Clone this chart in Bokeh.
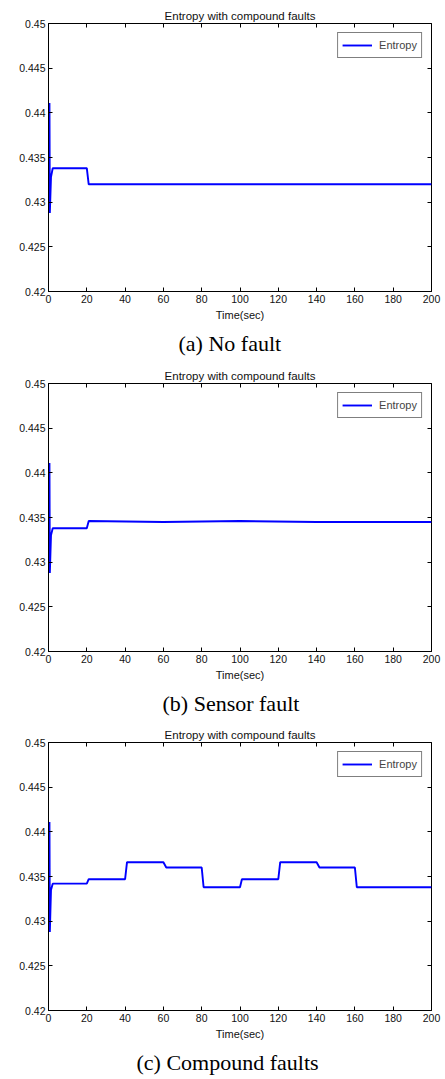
from bokeh.plotting import figure
from bokeh.models import (Range1d, FixedTicker, LinearAxis, CustomJSTickFormatter, Title)
from bokeh.layouts import column
from bokeh.embed import file_html
from bokeh.resources import INLINE

# ---- data ----
title_text = "Entropy with compound faults"
x_label = "Time(sec)"
series_name = "Entropy"
captions = ["(a) No fault", "(b) Sensor fault", "(c) Compound faults"]

x_ticks = [0, 20, 40, 60, 80, 100, 120, 140, 160, 180, 200]
y_ticks = [0.42, 0.425, 0.43, 0.435, 0.44, 0.445, 0.45]

# (a) No fault
t_a = [0.5, 0.7, 1.3, 2.2, 20.0, 21.0, 200]
e_a = [0.4411, 0.4288, 0.4328, 0.4338, 0.4338, 0.4320, 0.4320]

# (b) Sensor fault
t_b = [0.5, 0.7, 1.3, 2.2, 20.0, 21.0, 60, 100, 140, 200]
e_b = [0.4411, 0.4288, 0.4330, 0.4338, 0.4338, 0.4346, 0.4345, 0.4346, 0.4345, 0.4345]

# (c) Compound faults
t_c = [0.5, 0.7, 1.3, 2.2, 20.0, 21.0, 40.0, 41.0, 60.0, 61.5, 80.0, 81.0,
       100.0, 101.0, 120.0, 121.0, 140.0, 141.5, 160.0, 161.0, 200]
e_c = [0.4411, 0.4288, 0.4335, 0.4342, 0.4342, 0.4347, 0.4347, 0.4366, 0.4366, 0.4360,
       0.4360, 0.4338, 0.4338, 0.4347, 0.4347, 0.4366, 0.4366, 0.4360, 0.4360, 0.4338, 0.4338]

panels = [(t_a, e_a), (t_b, e_b), (t_c, e_c)]
heights = [360, 360, 359]
tops = [23, 23, 22]
caption_offsets = [130, 114, 88]

SANS = "Liberation Sans"
SERIF = "Liberation Serif"


def make_panel(t, e, caption, height, top, cap_off):
    p = figure(width=445, height=height, output_backend="svg", toolbar_location=None,
               x_range=Range1d(0, 200), y_range=Range1d(0.42, 0.45),
               min_border_left=48, min_border_right=14,
               min_border_top=top, min_border_bottom=height - top - 270)
    p.title.text = title_text
    p.title.align = "center"
    p.title.text_font = SANS
    p.title.text_font_size = "11.5px"
    p.title.text_font_style = "normal"
    p.title.text_color = "#111111"
    p.title.standoff = 4
    p.grid.visible = False
    p.outline_line_color = "black"
    p.outline_line_width = 1
    p.background_fill_color = "white"
    p.border_fill_color = "white"

    p.xaxis.ticker = FixedTicker(ticks=x_ticks)
    p.yaxis.ticker = FixedTicker(ticks=y_ticks)
    p.yaxis.formatter = CustomJSTickFormatter(
        code="return tick.toPrecision(3).replace(/0+$/, '');")
    for ax in (p.xaxis[0], p.yaxis[0]):
        ax.major_tick_in = 4
        ax.major_tick_out = 0
        ax.minor_tick_line_color = None
        ax.axis_line_color = "black"
        ax.major_tick_line_color = "black"
        ax.major_label_text_font = SANS
        ax.major_label_text_font_size = "10.5px"
        ax.major_label_text_color = "#111111"
        ax.major_label_standoff = 3
    p.xaxis.axis_label = x_label
    p.xaxis.axis_label_text_font = SANS
    p.xaxis.axis_label_text_font_size = "11px"
    p.xaxis.axis_label_text_font_style = "normal"
    p.xaxis.axis_label_standoff = 3
    p.xaxis.axis_label_text_color = "#111111"

    # mirrored ticks on top and right (box style)
    for loc, ticks in (("above", x_ticks), ("right", y_ticks)):
        ax = LinearAxis(ticker=FixedTicker(ticks=ticks),
                        formatter=CustomJSTickFormatter(code="return '';"))
        ax.major_tick_in = 4
        ax.major_tick_out = 0
        ax.minor_tick_line_color = None
        ax.axis_line_color = None
        ax.major_label_standoff = 0
        ax.major_label_text_font_size = "1px"
        p.add_layout(ax, loc)

    p.line(t, e, line_color="#0000ff", line_width=1.9, legend_label=series_name)
    lg = p.legend[0]
    lg.location = "top_right"
    lg.border_line_color = "black"
    lg.border_line_width = 1
    lg.background_fill_color = "white"
    lg.background_fill_alpha = 1
    lg.label_text_font = SANS
    lg.label_text_font_size = "11px"
    lg.padding = 4
    lg.margin = 9
    lg.glyph_height = 16
    lg.glyph_width = 30
    lg.label_standoff = 7
    lg.spacing = 0

    cap = Title(text=caption, align="left", text_font=SERIF,
                text_font_size="22px", text_font_style="normal", text_color="black",
                standoff=10, offset=cap_off)
    p.add_layout(cap, "below")
    return p


figs = [make_panel(t, e, c, h, tp, co) for (t, e), c, h, tp, co
        in zip(panels, captions, heights, tops, caption_offsets)]
layout = column(*figs, spacing=0)

open("out.html", "w").write(file_html(layout, INLINE))
